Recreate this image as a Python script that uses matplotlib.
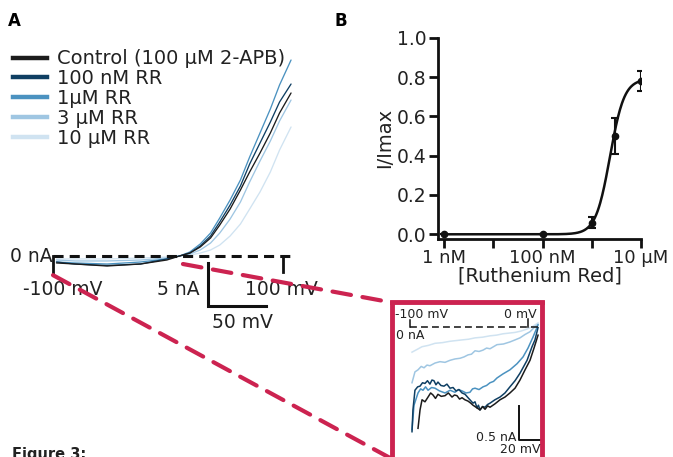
import numpy as np
import matplotlib
matplotlib.use("Agg")
import matplotlib.pyplot as plt
from matplotlib.lines import Line2D
from matplotlib.patches import ConnectionPatch

plt.rcParams['font.family'] = ['DejaVu Sans']

W, H = 673, 457

# ---------------- data ----------------
series_labels = ["Control (100 µM 2-APB)", "100 nM RR", "1µM RR", "3 µM RR", "10 µM RR"]
series_colors = ["#1c1c1c", "#0f3f63", "#4b92c0", "#9fc6e2", "#d0e3f1"]

# Panel A: I-V ramps (mV, nA)
iv_mV = [-97, -81, -53, -24, -1, 10, 19, 28, 37, 45, 54, 63, 71, 80, 89, 97, 107]
iv_control = [-0.80, -0.92, -1.15, -0.92, -0.46, 0, 0.34, 1.03, 2.07, 3.56, 5.40, 7.59, 9.66, 11.84, 14.14, 16.44, 18.74]
iv_100nM = [-0.69, -0.92, -1.09, -0.92, -0.34, 0, 0.34, 1.15, 2.30, 3.91, 5.86, 8.05, 10.57, 12.99, 15.40, 17.70, 19.77]
iv_1uM = [-0.69, -0.80, -0.92, -0.69, -0.34, 0, 0.46, 1.38, 2.64, 4.37, 6.44, 8.74, 11.38, 14.14, 16.90, 19.66, 22.53]
iv_3uM = [-0.46, -0.57, -0.57, -0.46, -0.23, 0, 0.23, 0.69, 1.49, 2.64, 4.25, 6.21, 8.51, 10.92, 13.22, 15.52, 17.93]
iv_10uM = [-0.34, -0.34, -0.34, -0.23, -0.11, 0, 0.11, 0.34, 0.69, 1.26, 2.30, 3.68, 5.40, 7.36, 9.66, 12.18, 14.83]

# Inset: zoom of -100..0 mV (mV, nA)
ins_control_mV = [-93.2, -91.5, -89.8, -87.3, -84.7, -82.5, -80.5, -78.4, -76.3, -73.5, -70.3, -67.5, -64.4, -62.3, -60.2, -58.0, -55.9, -53.5, -50.8, -48.5, -46.6, -43.2, -40.7, -38.5, -36.4, -34.2, -32.2, -28.0, -23.7, -19.5, -15.3, -11.0, -6.8, -2.5, 1.7, 5.1, 8.5]
ins_control_nA = [-1.49, -1.22, -1.07, -1.10, -1.03, -0.97, -1.00, -1.05, -0.99, -1.02, -1.01, -0.97, -1.03, -1.00, -1.01, -1.06, -1.04, -1.07, -1.09, -1.12, -1.15, -1.19, -1.22, -1.17, -1.21, -1.16, -1.18, -1.13, -1.07, -1.03, -0.97, -0.90, -0.78, -0.63, -0.49, -0.31, -0.12]

ins_100nM_mV = [-98.3, -97.5, -95.8, -93.5, -91.5, -89.4, -87.3, -85.2, -83.1, -81.4, -79.7, -78.0, -76.3, -73.8, -71.2, -68.7, -66.1, -63.5, -61.0, -58.5, -55.9, -53.3, -50.8, -48.7, -46.6, -44.9, -43.2, -42.0, -40.7, -38.5, -36.4, -34.3, -32.2, -28.0, -23.7, -19.5, -15.3, -11.0, -6.8, -0.8, 3.4, 5.9, 8.5]
ins_100nM_nA = [-1.54, -1.22, -0.93, -0.88, -0.87, -0.82, -0.83, -0.79, -0.84, -0.78, -0.79, -0.85, -0.81, -0.86, -0.87, -0.84, -0.90, -0.89, -0.94, -0.92, -0.97, -0.99, -1.04, -1.08, -1.12, -1.10, -1.19, -1.15, -1.22, -1.17, -1.18, -1.14, -1.12, -1.07, -1.03, -0.97, -0.88, -0.79, -0.68, -0.49, -0.29, -0.19, -0.01]

ins_1uM_mV = [-98.3, -96.6, -93.2, -91.0, -89.0, -86.8, -84.7, -81.7, -78.8, -75.0, -70.3, -66.0, -61.9, -58.9, -55.9, -52.5, -49.2, -47.0, -44.9, -41.5, -38.1, -35.1, -32.2, -29.2, -26.3, -21.2, -15.3, -9.3, -4.2, 0.0, 4.2, 8.5]
ins_1uM_nA = [-1.51, -1.15, -0.97, -0.91, -0.93, -0.88, -0.93, -0.89, -0.90, -0.94, -0.97, -0.93, -0.96, -0.92, -0.94, -0.97, -0.96, -0.91, -0.90, -0.92, -0.88, -0.86, -0.82, -0.80, -0.75, -0.69, -0.63, -0.54, -0.44, -0.31, -0.15, 0.03]

ins_3uM_mV = [-98.3, -95.8, -93.2, -90.5, -88.1, -85.6, -83.1, -78.8, -74.6, -70.3, -66.1, -61.9, -57.6, -54.2, -50.8, -47.9, -44.9, -41.5, -38.1, -35.1, -32.2, -26.3, -20.8, -15.3, -11.0, -6.8, -2.5, 1.7, 5.1, 8.5]
ins_3uM_nA = [-0.82, -0.66, -0.63, -0.58, -0.60, -0.56, -0.57, -0.53, -0.51, -0.52, -0.49, -0.47, -0.46, -0.44, -0.41, -0.40, -0.35, -0.36, -0.34, -0.31, -0.32, -0.26, -0.25, -0.22, -0.19, -0.16, -0.11, -0.07, -0.01, 0.04]

ins_10uM_mV = [-98.3, -94.0, -89.8, -84.3, -78.8, -72.5, -66.1, -61.0, -55.9, -50.4, -44.9, -38.5, -32.2, -26.7, -21.2, -16.1, -11.0, -5.9, -0.8, 4.2, 8.5]
ins_10uM_nA = [-0.37, -0.33, -0.29, -0.27, -0.24, -0.23, -0.21, -0.20, -0.19, -0.18, -0.16, -0.15, -0.13, -0.12, -0.10, -0.09, -0.08, -0.06, -0.03, 0.01, 0.06]

# Panel B: dose response
rr_conc_M = [1e-9, 1e-7, 1e-6, 3e-6, 1e-5]
rr_inhibition = [0.0, 0.0, 0.06, 0.50, 0.78]
rr_sem = [0.0, 0.0, 0.03, 0.09, 0.05]
fit_top = 0.79
fit_ic50_M = 2.34e-6
fit_hill = 3.0
b_xticks = [1e-9, 1e-8, 1e-7, 1e-6, 1e-5]
b_xticklabels = ["1 nM", "", "100 nM", "", "10 µM"]
b_yticks = [0.0, 0.2, 0.4, 0.6, 0.8, 1.0]
b_yticklabels = ["0.0", "0.2", "0.4", "0.6", "0.8", "1.0"]

RED = "#cc2350"
TXT = "#222222"

fig = plt.figure(figsize=(W / 100, H / 100), dpi=100)


def px_axes(x0, y0, x1, y1):
    return fig.add_axes([x0 / W, 1 - y1 / H, (x1 - x0) / W, (y1 - y0) / H])


# ---------------- Panel A ----------------
axA = px_axes(0, 40, 330, 340)
axA.set_xlim(-146.09, 140.87)
axA.set_ylim(-9.655, 24.83)
axA.axis('off')

traces = [iv_control, iv_100nM, iv_1uM, iv_3uM, iv_10uM]
for tr, col in reversed(list(zip(traces, series_colors))):
    axA.plot(iv_mV, tr, color=col, lw=0.95, solid_capstyle='round')

axA.plot([-100, 108], [0, 0], color='#111111', lw=2.2, dashes=(3.3, 2.0))
axA.plot([-100, -100], [0, -2.2], color='#111111', lw=2.0)
axA.plot([100, 100], [0, -1.85], color='#111111', lw=2.0)
# scale bars: 5 nA, 50 mV
sb_x, sb_y = 34.8, -0.8
axA.plot([sb_x, sb_x, sb_x + 50], [sb_y, sb_y - 5, sb_y - 5], color='#111111', lw=2.2,
         solid_joinstyle='miter')

fsA = 13.5
axA.text(-100, 0, "0 nA", ha='right', va='center', fontsize=fsA, color=TXT)
axA.text(-91.3, -3.9, "-100 mV", ha='center', va='center', fontsize=fsA, color=TXT)
axA.text(98.3, -3.9, "100 mV", ha='center', va='center', fontsize=fsA, color=TXT)
axA.text(27.8, -3.9, "5 nA", ha='right', va='center', fontsize=fsA, color=TXT)
axA.text(64.8, -7.7, "50 mV", ha='center', va='center', fontsize=fsA, color=TXT)

handles = [Line2D([], [], color=c, lw=3.2) for c in series_colors]
axA.legend(handles, series_labels, loc='upper left', bbox_to_anchor=(13 / W, 1 - 49.5 / H),
           bbox_transform=fig.transFigure, frameon=False, fontsize=14, handlelength=1.75,
           handletextpad=0.5, labelspacing=0.04, borderpad=0, borderaxespad=0,
           labelcolor=TXT)

fig.text(8 / W, 1 - 21 / H, "A", fontsize=12, fontweight='bold', va='center', ha='left')
fig.text(335 / W, 1 - 21 / H, "B", fontsize=12, fontweight='bold', va='center', ha='left')
fig.text(12 / W, 1 - 447 / H, "Figure 3:", fontsize=10.5, fontweight='bold', va='top', ha='left',
         color=TXT)

# ---------------- Inset ----------------
axI = px_axes(392, 302.5, 542, 459)
axI.set_xlim(-115.25, 11.86)
axI.set_ylim(-1.941, 0.360)
axI.set_xticks([])
axI.set_yticks([])
for s in axI.spines.values():
    s.set_color(RED)
    s.set_linewidth(3.5)
axI.patch.set_alpha(0)

ins = [(ins_control_mV, ins_control_nA), (ins_100nM_mV, ins_100nM_nA), (ins_1uM_mV, ins_1uM_nA),
       (ins_3uM_mV, ins_3uM_nA), (ins_10uM_mV, ins_10uM_nA)]
for (xm, yn), col in reversed(list(zip(ins, series_colors))):
    axI.plot(xm, yn, color=col, lw=1.1)

axI.plot([-100, 8.5], [0, 0], color='#111111', lw=1.1, dashes=(4.5, 2.7))
axI.plot([-100, -100], [0, 0.1], color='#111111', lw=1.1)
axI.plot([0, 0], [0, 0.12], color='#111111', lw=1.1)
isb_x, isb_y = -7.6, -1.16
axI.plot([isb_x, isb_x, isb_x + 20], [isb_y, isb_y - 0.5, isb_y - 0.5], color='#111111', lw=1.4,
         clip_on=False)
fsI = 9
axI.text(-112.7, 0.18, "-100 mV", ha='left', va='center', fontsize=fsI, color=TXT)
axI.text(7.6, 0.19, "0 mV", ha='right', va='center', fontsize=fsI, color=TXT)
axI.text(-111.9, -0.12, "0 nA", ha='left', va='center', fontsize=fsI, color=TXT)
axI.text(-10.2, -1.62, "0.5 nA", ha='right', va='center', fontsize=fsI, color=TXT)
axI.text(10.2, -1.80, "20 mV", ha='right', va='center', fontsize=fsI, color=TXT)

# connectors
for xyA, xyB in [((-100, -2.2), (0, 0)), ((13, -0.92), (0, 1))]:
    con = ConnectionPatch(xyA=xyA, coordsA=axA.transData, xyB=xyB, coordsB=axI.transAxes,
                          color=RED, lw=3.0, linestyle=(0, (4.5, 2.8)))
    fig.add_artist(con)

# ---------------- Panel B ----------------
axB = px_axes(438, 37.7, 641, 239)
axB.set_xscale('log')
axB.set_xlim(10 ** (-9 - 6.3 / 49.2), 1e-5)
axB.set_ylim(-0.0239, 1.0)
for side in ['top', 'right']:
    axB.spines[side].set_visible(False)
for side in ['left', 'bottom']:
    axB.spines[side].set_linewidth(2.0)
    axB.spines[side].set_color('#111111')

fit_x = np.logspace(-9, -5, 300)
fit_y = fit_top / (1 + (fit_ic50_M / fit_x) ** fit_hill)
axB.plot(fit_x, fit_y, color='#111111', lw=1.8)
axB.errorbar(rr_conc_M, rr_inhibition, yerr=rr_sem, fmt='o', color='#111111', ms=4.5,
             elinewidth=1.5, capsize=3.2, capthick=1.5)

axB.set_xticks(b_xticks)
axB.set_xticklabels(b_xticklabels)
axB.xaxis.set_minor_locator(matplotlib.ticker.NullLocator())
axB.set_yticks(b_yticks)
axB.set_yticklabels(b_yticklabels)
axB.tick_params(axis='both', direction='out', length=6.5, width=2.0, labelsize=13.5,
                colors='#111111', labelcolor=TXT)
axB.tick_params(axis='x', pad=1, labelsize=13)
axB.tick_params(axis='y', pad=2)
axB.set_ylabel("I/Imax", fontsize=14, color=TXT, labelpad=2)
axB.set_xlabel("[Ruthenium Red]", fontsize=14, color=TXT, labelpad=-1)

fig.savefig("out.png", dpi=100)
